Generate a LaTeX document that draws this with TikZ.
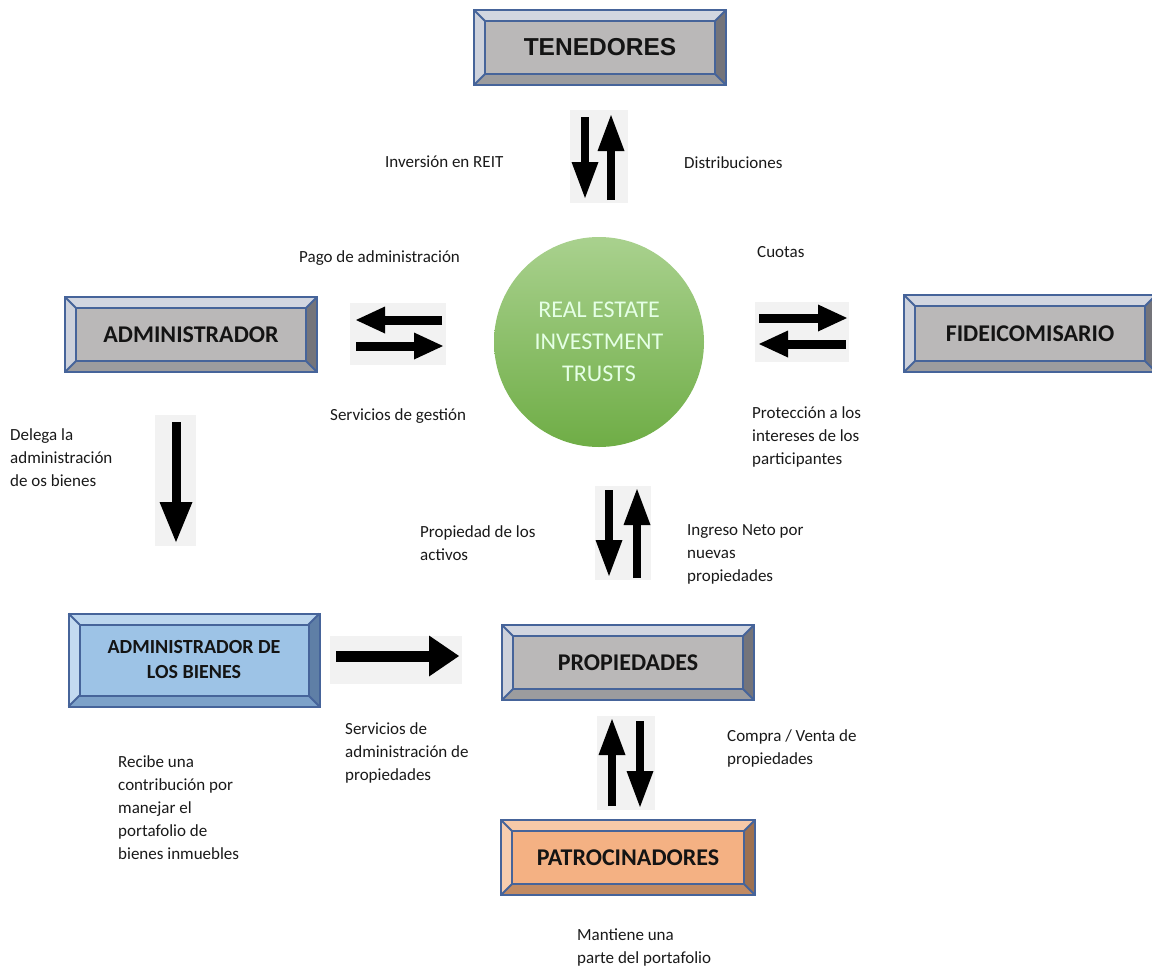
\documentclass[tikz,border=0pt]{standalone}
\usepackage{fontspec}
\setmainfont{Carlito}
\newfontfamily\arialfont{Liberation Sans}
\usetikzlibrary{arrows.meta,calc}
\definecolor{edgeblue}{HTML}{46649A}
\definecolor{gface}{HTML}{BAB8B8}
\definecolor{gtop}{HTML}{D2D6E0}
\definecolor{gleft}{HTML}{CDD1DB}
\definecolor{gright}{HTML}{74747A}
\definecolor{gbot}{HTML}{9C9C9E}
\definecolor{bface}{HTML}{9DC3E6}
\definecolor{btop}{HTML}{BCD6EE}
\definecolor{bleft}{HTML}{C3DAF0}
\definecolor{bright}{HTML}{5F7FA6}
\definecolor{bbot}{HTML}{7DA2C9}
\definecolor{oface}{HTML}{F4B183}
\definecolor{otop}{HTML}{F7C9A8}
\definecolor{oleft}{HTML}{F8CDAE}
\definecolor{oright}{HTML}{9E7150}
\definecolor{obot}{HTML}{C28B63}
\definecolor{argray}{HTML}{F2F2F2}
\definecolor{gtopc}{HTML}{A9D18E}
\definecolor{gbotc}{HTML}{6FAD46}
\def\bw{11}
\newcommand\bevel[2]{%
 \fill[#2top] (#1.north west) -- (#1.north east) -- ($(#1.north east)+(-\bw,\bw)$) -- ($(#1.north west)+(\bw,\bw)$) -- cycle;
 \fill[#2bot] (#1.south west) -- (#1.south east) -- ($(#1.south east)+(-\bw,-\bw)$) -- ($(#1.south west)+(\bw,-\bw)$) -- cycle;
 \fill[#2left] (#1.north west) -- ($(#1.north west)+(\bw,\bw)$) -- ($(#1.south west)+(\bw,-\bw)$) -- (#1.south west) -- cycle;
 \fill[#2right] (#1.north east) -- ($(#1.north east)+(-\bw,\bw)$) -- ($(#1.south east)+(-\bw,-\bw)$) -- (#1.south east) -- cycle;
 \draw[edge] (#1.north west) rectangle (#1.south east);
 \draw[edge] ($(#1.north west)+(\bw,\bw)$) rectangle ($(#1.south east)+(-\bw,-\bw)$);
 \draw[edge] (#1.north west) -- ++(\bw,\bw) (#1.north east) -- ++(-\bw,\bw)
   (#1.south west) -- ++(\bw,-\bw) (#1.south east) -- ++(-\bw,-\bw);
}
\begin{document}
\begin{tikzpicture}[x=1pt,y=-1pt,
 edge/.style={draw=edgeblue,line width=2pt,line join=miter},
 box/.style={inner sep=0pt,outer sep=0pt,minimum width=252pt,minimum height=75pt,align=center,
   font=\fontsize{24}{28}\selectfont\bfseries,text=black!92},
 lab/.style={anchor=north west,inner sep=0pt,align=left,font=\fontsize{17}{23}\selectfont,text=black!90},
 argbg/.style={fill=argray},
 barrow/.style={line width=8.5pt,-{Triangle[length=36pt,width=27pt,line width=0pt]}},
 harrow/.style={line width=9pt,-{Triangle[length=29pt,width=27pt,line width=0pt]}},
 bigarrow/.style={line width=9pt,-{Triangle[length=40pt,width=33pt,line width=0pt]}},
 widearrow/.style={line width=11pt,-{Triangle[length=30pt,width=41pt,line width=0pt]}}]
\useasboundingbox (0,0) rectangle (1152,967);
\begin{scope}
\clip (0,0) rectangle (1152,967);

% boxes
\node[box,fill=gface,font=\arialfont\fontsize{24.5}{28}\selectfont\bfseries] (ten) at (600,47.5) {TENEDORES};
\bevel{ten}{g}
\node[box,fill=gface] (adm) at (191,334.5) {ADMINISTRADOR};
\bevel{adm}{g}
\node[box,fill=gface,minimum height=77pt] (fid) at (1030,333.5) {FIDEICOMISARIO};
\bevel{fid}{g}
\node[box,fill=bface,minimum width=251pt,minimum height=93pt,font=\fontsize{20}{25}\selectfont\bfseries] (ab) at (194,660) {ADMINISTRADOR DE\\LOS BIENES};
\bevel{ab}{b}
\node[box,fill=gface] (prop) at (628,662.5) {PROPIEDADES};
\bevel{prop}{g}
\node[box,fill=oface,minimum width=254pt] (pat) at (628,857.5) {PATROCINADORES};
\bevel{pat}{o}

% circle
\node[circle,minimum size=210pt,inner sep=0pt,top color=gtopc,bottom color=gbotc,
  text=white!90!green,align=center,font=\fontsize{24}{32}\selectfont] (reit) at (599,342)
  {REAL ESTATE\\INVESTMENT\\TRUSTS};

% arrows
\fill[argbg] (570,110) rectangle (628,203);
\draw[barrow] (585,117) -- (585,198);
\draw[barrow] (611,200) -- (611,115);

\fill[argbg] (350,303) rectangle (446,365);
\draw[harrow] (442,320) -- (356,320);
\draw[harrow] (356,346) -- (443,346);

\fill[argbg] (755,302) rectangle (849,362);
\draw[harrow] (759,318) -- (847,318);
\draw[harrow] (846,344) -- (759,344);

\fill[argbg] (155,415) rectangle (196,546);
\draw[bigarrow] (176,422) -- (176,542);

\fill[argbg] (595,486) rectangle (651,580);
\draw[barrow] (609,490) -- (609,576);
\draw[barrow] (637,578) -- (637,489);

\fill[argbg] (330,636) rectangle (462,684);
\draw[widearrow] (336,656) -- (459,656);

\fill[argbg] (597,716) rectangle (655,810);
\draw[barrow] (612,806) -- (612,719);
\draw[barrow] (640,721) -- (640,807);

% labels
\node[lab] (l1) at (385,156) {Inversión en REIT};
\node[lab] (l2) at (684,156) {Distribuciones};
\node[lab] (l3) at (299,250) {Pago de administración};
\node[lab] (l4) at (757,246) {Cuotas};
\node[lab] (l5) at (330,408) {Servicios de gestión};
\node[lab] (l6) at (752,406) {Protección a los\\intereses de los\\participantes};
\node[lab] (l7) at (10,428) {Delega la\\administración\\de os bienes};
\node[lab] (l8) at (420,525) {Propiedad de los\\activos};
\node[lab] (l9) at (687,524) {Ingreso Neto por\\nuevas\\propiedades};
\node[lab] (l10) at (345,722) {Servicios de\\administración de\\propiedades};
\node[lab] (l11) at (727,729) {Compra / Venta de\\propiedades};
\node[lab] (l12) at (118,755) {Recibe una\\contribución por\\manejar el\\portafolio de\\bienes inmuebles};
\node[lab] (l13) at (577,929) {Mantiene una\\parte del portafolio};
\end{scope}
\end{tikzpicture}
\end{document}
